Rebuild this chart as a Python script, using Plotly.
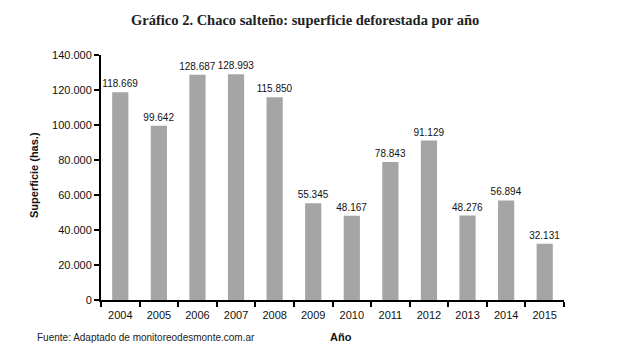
import plotly.graph_objects as go

years = ["2004", "2005", "2006", "2007", "2008", "2009", "2010", "2011", "2012", "2013", "2014", "2015"]
values = [118669, 99642, 128687, 128993, 115850, 55345, 48167, 78843, 91129, 48276, 56894, 32131]
labels = ["118.669", "99.642", "128.687", "128.993", "115.850", "55.345", "48.167", "78.843", "91.129", "48.276", "56.894", "32.131"]
ytickvals = [0, 20000, 40000, 60000, 80000, 100000, 120000, 140000]
yticktext = ["0", "20.000", "40.000", "60.000", "80.000", "100.000", "120.000", "140.000"]

W, H = 643, 344
L, R, T, B = 101, 79, 55, 44
PW, PH = W - L - R, H - T - B


def px(x):
    return (x - L) / PW


def py(y):
    return (H - B - y) / PH


FONT = "Liberation Sans, Arial, sans-serif"

fig = go.Figure()
fig.add_trace(go.Bar(
    x=years, y=values, text=labels, textposition="outside",
    textfont=dict(family=FONT, size=10, color="#111"),
    marker=dict(color="#a5a5a5", line=dict(width=0)),
    width=0.42, cliponaxis=False,
))

fig.update_layout(
    width=W, height=H,
    margin=dict(l=L, r=R, t=T, b=B),
    paper_bgcolor="white", plot_bgcolor="white",
    showlegend=False,
    uniformtext=dict(minsize=10, mode="show"),
    font=dict(family=FONT, size=11, color="#111"),
    annotations=[
        dict(text="<b>Gráfico 2. Chaco salteño: superficie deforestada por año</b>",
             x=px(305), y=py(20), xref="paper", yref="paper", showarrow=False,
             xanchor="center", yanchor="middle",
             font=dict(family="Liberation Serif, Cambria, serif", size=14.5, color="#222")),
        dict(text="<b>Superficie (has.)</b>", textangle=-90,
             x=px(34), y=py(175), xref="paper", yref="paper", showarrow=False,
             xanchor="center", yanchor="middle",
             font=dict(family=FONT, size=11, color="#111")),
        dict(text="Fuente: Adaptado de monitoreodesmonte.com.ar",
             x=px(35), y=py(337), xref="paper", yref="paper", showarrow=False,
             xanchor="left", yanchor="middle",
             font=dict(family=FONT, size=10, color="#222")),
        dict(text="<b>Año</b>", x=px(341), y=py(337), xref="paper", yref="paper",
             showarrow=False, xanchor="center", yanchor="middle",
             font=dict(family=FONT, size=11, color="#111")),
    ],
)

fig.update_xaxes(
    showline=True, linecolor="black", linewidth=2,
    ticks="outside", tickson="boundaries", ticklen=5, tickwidth=2, tickcolor="black",
    ticklabelstandoff=4,
    showgrid=False, tickfont=dict(size=11, color="#111"),
)
fig.update_yaxes(
    range=[0, 140000], tickvals=ytickvals, ticktext=yticktext,
    showline=True, linecolor="black", linewidth=2,
    ticks="outside", ticklen=5, tickwidth=2, tickcolor="black",
    showgrid=False, zeroline=False, tickfont=dict(size=11, color="#111"),
)

fig.write_html("out.html")
